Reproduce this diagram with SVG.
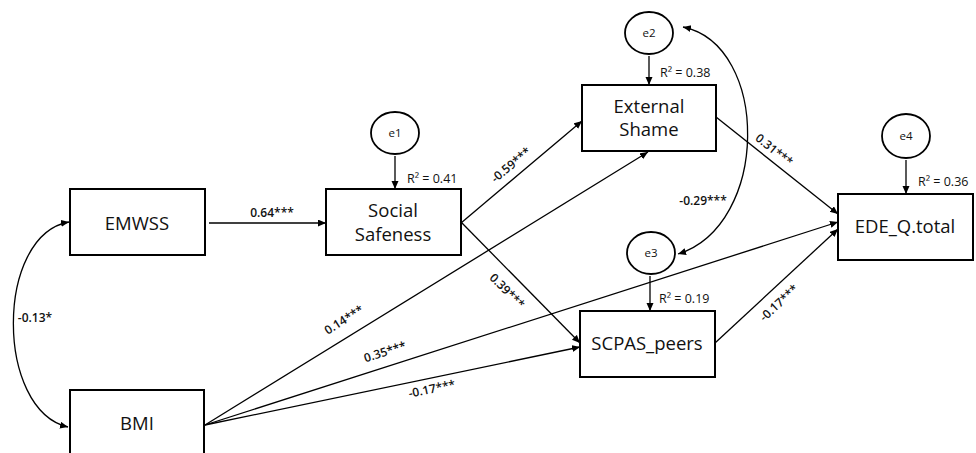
<svg xmlns="http://www.w3.org/2000/svg" width="976" height="453" viewBox="0 0 976 453">
<style>
.box{fill:#fff;stroke:#000;stroke-width:2}
.err{fill:#fff;stroke:#000;stroke-width:1.8}
.nt{font-family:"Open Sans","Liberation Sans",sans-serif;font-size:18.5px;fill:#111;text-anchor:middle}
.et{font-family:"Open Sans","Liberation Sans",sans-serif;font-size:11.5px;fill:#111;text-anchor:middle}
.lb{font-family:"Open Sans","Liberation Sans",sans-serif;font-size:12px;font-weight:600;fill:#111;text-anchor:middle}
.r2{font-family:"Open Sans","Liberation Sans",sans-serif;font-size:12.5px;fill:#111}
.ln{fill:none;stroke:#000;stroke-width:1.3}
</style>
<defs>
<marker id="ah" markerUnits="userSpaceOnUse" markerWidth="10" markerHeight="8" refX="8" refY="3.5" orient="auto-start-reverse">
<path d="M0,0 L8,3.5 L0,7 z" fill="#000"/>
</marker>
</defs>
<rect width="976" height="453" fill="#fff"/>
<g id="connectors">
<path class="ln" d="M209 223 L326 223" marker-end="url(#ah)"/>
<path class="ln" d="M461 223 L582 121" marker-end="url(#ah)"/>
<path class="ln" d="M461 222 L580 343" marker-end="url(#ah)"/>
<path class="ln" d="M205 425 L648 152" marker-end="url(#ah)"/>
<path class="ln" d="M205 425 L838 222" marker-end="url(#ah)"/>
<path class="ln" d="M205 425 L580 347" marker-end="url(#ah)"/>
<path class="ln" d="M716 117 L838 214" marker-end="url(#ah)"/>
<path class="ln" d="M715 343 L838 229" marker-end="url(#ah)"/>
<path class="ln" d="M395 156 L395 189" marker-end="url(#ah)"/>
<path class="ln" d="M649 56 L649 85" marker-end="url(#ah)"/>
<path class="ln" d="M650 276 L650 311" marker-end="url(#ah)"/>
<path class="ln" d="M906 160 L906 194" marker-end="url(#ah)"/>
<path class="ln" d="M683 27 C 770 45, 770 225, 678 254" marker-start="url(#ah)" marker-end="url(#ah)"/>
<path class="ln" d="M69 222 C -5 235, -5 410, 68 427" marker-start="url(#ah)" marker-end="url(#ah)"/>
<text class="lb" x="272" y="217">0.64***</text>
<text class="lb" transform="translate(511,165) rotate(-40)" y="4">-0.59***</text>
<text class="lb" transform="translate(507,291) rotate(45)" y="4">0.39***</text>
<text class="lb" transform="translate(344,320) rotate(-32)" y="4">0.14***</text>
<text class="lb" transform="translate(385,352) rotate(-17.8)" y="4">0.35***</text>
<text class="lb" transform="translate(432,389) rotate(-11.7)" y="4">-0.17***</text>
<text class="lb" transform="translate(774,150) rotate(38.4)" y="4">0.31***</text>
<text class="lb" transform="translate(779,303) rotate(-43)" y="4">-0.17***</text>
<text class="lb" x="703" y="205">-0.29***</text>
<text class="lb" x="35" y="322">-0.13*</text>
<text class="r2" x="407" y="183">R² = 0.41</text>
<text class="r2" x="660" y="77">R² = 0.38</text>
<text class="r2" x="659" y="303">R² = 0.19</text>
<text class="r2" x="918" y="186">R² = 0.36</text>
</g>
<g id="EMWSS"><rect class="box" x="70" y="189" width="135" height="66"/><text class="nt" x="137" y="230">EMWSS</text></g>
<g id="BMI"><rect class="box" x="70" y="390" width="134" height="66"/><text class="nt" x="137" y="430">BMI</text></g>
<g id="SocialSafeness"><rect class="box" x="326" y="189" width="135" height="66"/><text class="nt" x="393" y="217">Social</text><text class="nt" x="393" y="241">Safeness</text></g>
<g id="ExternalShame"><rect class="box" x="582" y="85" width="134" height="66"/><text class="nt" x="649" y="113">External</text><text class="nt" x="649" y="136">Shame</text></g>
<g id="SCPAS_peers"><rect class="box" x="580" y="311" width="135" height="66"/><text class="nt" x="647" y="350">SCPAS_peers</text></g>
<g id="EDE_Q_total"><rect class="box" x="838" y="194" width="135" height="66"/><text class="nt" x="905" y="233">EDE_Q.total</text></g>
<g id="e1"><ellipse class="err" cx="395" cy="133" rx="24" ry="21"/><text class="et" x="395" y="137">e1</text></g>
<g id="e2"><ellipse class="err" cx="649" cy="33" rx="24" ry="21"/><text class="et" x="649" y="37">e2</text></g>
<g id="e3"><ellipse class="err" cx="651" cy="253" rx="24" ry="21"/><text class="et" x="651" y="257">e3</text></g>
<g id="e4"><ellipse class="err" cx="906" cy="136" rx="24" ry="22"/><text class="et" x="906" y="140">e4</text></g>
</svg>
